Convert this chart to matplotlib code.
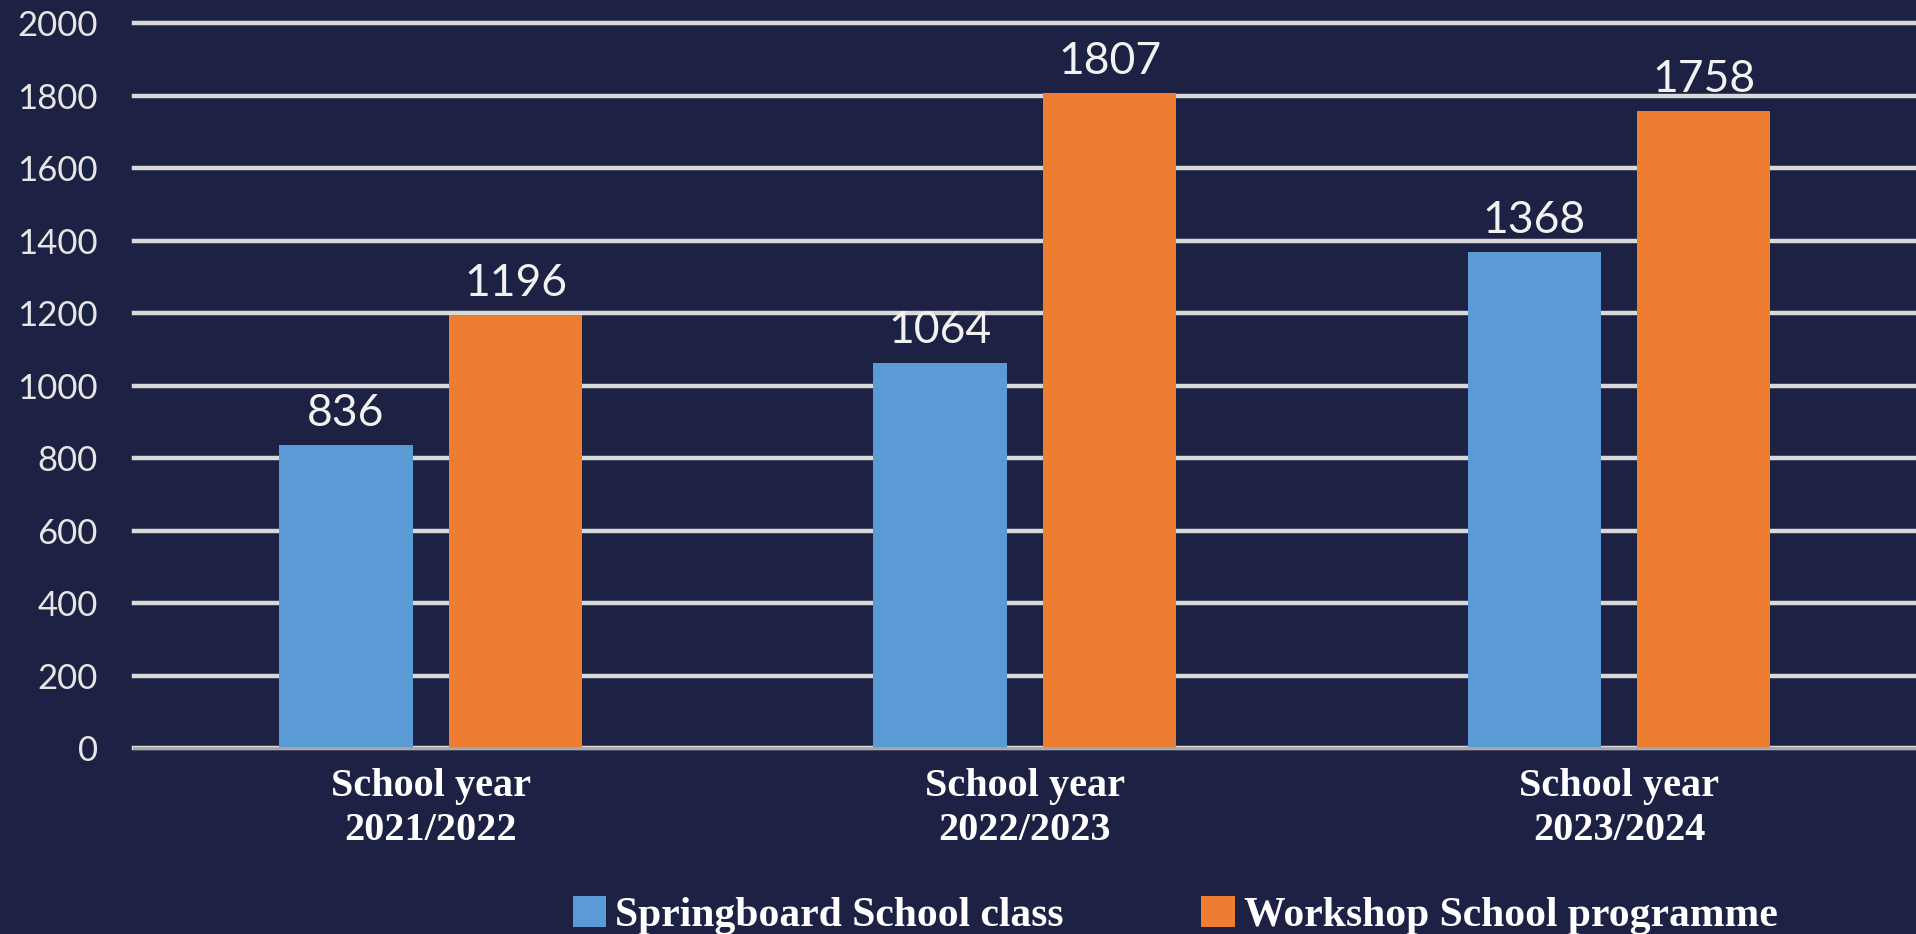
import numpy as np
import matplotlib.pyplot as plt

# data
years = ['School year\n2021/2022', 'School year\n2022/2023', 'School year\n2023/2024']
springboard = [836, 1064, 1368]
workshop = [1196, 1807, 1758]
series_names = ['Springboard School class', 'Workshop School programme']
y_ticks = [0, 200, 400, 600, 800, 1000, 1200, 1400, 1600, 1800, 2000]

bg = '#1d2143'
blue = '#5b9bd5'
orange = '#ed7d31'

fig = plt.figure(figsize=(19.16, 9.34), dpi=100, facecolor=bg)
ax = fig.add_axes([0.0699, 0.199, 0.9301, 0.776])
ax.set_facecolor(bg)

x = np.arange(len(years))
w = 0.224
off = 0.143
b1 = ax.bar(x - off, springboard, w, color=blue, label=series_names[0], zorder=3)
b2 = ax.bar(x + off, workshop, w, color=orange, label=series_names[1], zorder=3)

ax.bar_label(b1, padding=8, fontsize=32, color='#f2f2f2', family='Lato')
ax.bar_label(b2, padding=8, fontsize=32, color='#f2f2f2', family='Lato')

ax.set_xlim(-0.5, 2.5)
ax.set_ylim(0, 2000)
ax.set_yticks(y_ticks)
ax.set_yticklabels([str(v) for v in y_ticks], family='Lato', fontsize=25, color='#e6e6e6')
ax.set_xticks(x)
ax.set_xticklabels(years, family='Liberation Serif', fontweight='bold', fontsize=29,
                   color='white', linespacing=1.25)
ax.tick_params(axis='y', length=0, pad=26)
ax.tick_params(axis='x', length=0, pad=14)

ax.set_axisbelow(True)
ax.yaxis.grid(True, color='#d9d9d9', linewidth=3.2)
for gl in ax.get_ygridlines():
    gl.set_clip_on(False)
for s in ['top', 'right', 'left']:
    ax.spines[s].set_visible(False)
ax.spines['bottom'].set_color('#a6a6a6')
ax.spines['bottom'].set_linewidth(2)
ax.spines['bottom'].set_zorder(4)

leg = fig.legend(handles=[b1, b2], loc='center left', bbox_to_anchor=(0.299, 0.02),
                 ncol=2, frameon=False, borderpad=0, borderaxespad=0,
                 handlelength=0.8, handleheight=0.8, handletextpad=0.22,
                 columnspacing=3.3,
                 prop=dict(family='Liberation Serif', weight='bold', size=30))
for t in leg.get_texts():
    t.set_color('white')

fig.savefig('out.png', dpi=100, facecolor=bg)
